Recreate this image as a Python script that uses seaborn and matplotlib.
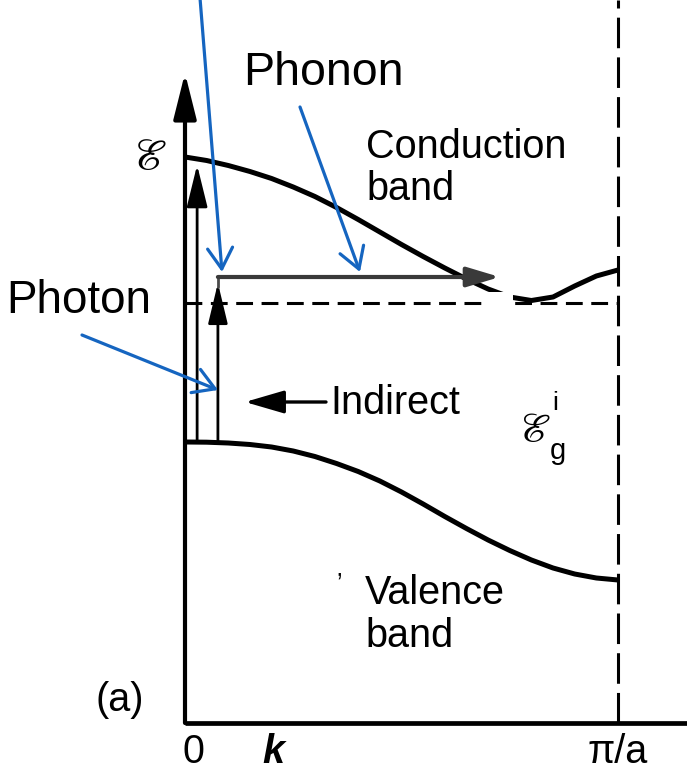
import matplotlib
matplotlib.use("Agg")
import matplotlib.pyplot as plt
from matplotlib.patches import Rectangle
import pandas as pd
import seaborn as sns

# Wavevector grid (units of pi/a) and band energies (arbitrary units)
k_grid = [0.0, 0.05, 0.1, 0.15, 0.2, 0.25, 0.3, 0.35, 0.4, 0.45, 0.5,
          0.55, 0.6, 0.65, 0.7, 0.75, 0.8, 0.85, 0.9, 0.95, 1.0]
conduction_E = [5.66, 5.625, 5.575, 5.515, 5.445, 5.36, 5.265, 5.155, 5.035, 4.91, 4.785,
                4.665, 4.55, 4.44, 4.34, 4.26, 4.225, 4.26, 4.37, 4.47, 4.53]
valence_E = [2.81, 2.808, 2.80, 2.785, 2.76, 2.72, 2.665, 2.595, 2.515, 2.42, 2.31,
             2.19, 2.065, 1.945, 1.83, 1.725, 1.63, 1.55, 1.49, 1.45, 1.43]

# Transition levels
gap_E = 4.20          # indirect gap (conduction-band minimum)
phonon_E = 4.46       # level reached by the photon in the indirect process
direct_top_E = 5.58   # direct transition end point
axis_top_E = 6.50
k_direct = 0.028
k_indirect = 0.076
k_phonon_end = 0.727

tick_pos = [0.0, 0.203, 1.0]
tick_labels = ["0", "k", "π/a"]

bands = pd.concat([
    pd.DataFrame({"k": k_grid, "E": conduction_E, "band": "conduction"}),
    pd.DataFrame({"k": k_grid, "E": valence_E, "band": "valence"}),
])

sns.set_theme(style="white")
plt.rcParams["font.family"] = ["Liberation Sans", "DejaVu Sans"]
plt.rcParams["text.color"] = "black"

fig = plt.figure(figsize=(6.87, 7.70), dpi=100)
ax = fig.add_axes([0, 0, 1, 1])
X0, SX, Y0, SY = 185.0, 433.0, 723.0, 100.0
ax.set_xlim(-X0 / SX, (687 - X0) / SX)
ax.set_ylim((Y0 - 770) / SY, Y0 / SY)
ax.set_axis_off()


def at(x, y):
    """Figure pixel position -> (k, E) data position."""
    return ((x - X0) / SX, (Y0 - y) / SY)


sns.lineplot(data=bands, x="k", y="E", units="band", estimator=None,
             color="black", lw=3.6, ax=ax, legend=False, zorder=3)
for ln in ax.lines:
    ln.set_solid_joinstyle("round")
    ln.set_solid_capstyle("butt")

# k axis and zone boundary
ax.plot([0, ax.get_xlim()[1]], [0, 0], color="black", lw=3.4, solid_capstyle="butt", zorder=2)
ax.plot([1, 1], [0, ax.get_ylim()[1]], color="black", lw=2.2,
        linestyle=(0, (10, 3)), zorder=2)
ax.plot([0, 1], [gap_E, gap_E], color="black", lw=2.2,
        linestyle=(0, (5.5, 2.8)), zorder=2)


def up_arrow(k, e0, e1, lw, hl, hw, ms=20, color="black"):
    ax.annotate("", xy=(k, e1), xytext=(k, e0),
                arrowprops=dict(arrowstyle=f"-|>,head_length={hl},head_width={hw}",
                                color=color, lw=lw, shrinkA=0, shrinkB=0,
                                mutation_scale=ms), zorder=4)


# energy axis and vertical (photon) transitions
up_arrow(0.0, 0.0, axis_top_E, 3.0, 1.4, 0.35)
up_arrow(k_direct, valence_E[0], direct_top_E, 2.0, 1.3, 0.32)
up_arrow(k_indirect, valence_E[0], phonon_E - 0.06, 2.0, 1.25, 0.3)

# phonon step
ax.plot([k_indirect, k_indirect], [phonon_E - 0.1, phonon_E], color="#4a4a4a", lw=2.0, zorder=4)
ax.annotate("", xy=(k_phonon_end, phonon_E), xytext=(k_indirect, phonon_E),
            arrowprops=dict(arrowstyle="-|>,head_length=1.0,head_width=0.3",
                            color="#3a3a3a", lw=3.0, shrinkA=0, shrinkB=0,
                            mutation_scale=20), zorder=4)

# whited-out patch on the band minimum
x0, y0 = at(483, 308)
x1, y1 = at(513, 292)
ax.add_patch(Rectangle((x0, y0), x1 - x0, y1 - y0, facecolor="white",
                       edgecolor="none", zorder=6))

# "Indirect" pointer
ax.annotate("", xy=at(245, 402), xytext=at(326, 402),
            arrowprops=dict(arrowstyle="-|>,head_length=1.2,head_width=0.35",
                            color="black", lw=2.4, shrinkA=0, shrinkB=0,
                            mutation_scale=20), zorder=4)

fs = 28.5
ax.text(*at(366, 158), "Conduction", fontsize=fs, va="baseline", ha="left")
ax.text(*at(366, 200), "band", fontsize=fs, va="baseline", ha="left")
ax.text(*at(365, 604), "Valence", fontsize=fs, va="baseline", ha="left")
ax.text(*at(365, 647), "band", fontsize=fs, va="baseline", ha="left")
ax.text(*at(330, 414), "Indirect", fontsize=fs, va="baseline", ha="left")
ax.text(*at(120, 700), "(a)", fontsize=fs, va="center", ha="center")
ax.text(*at(339, 584), "\u2019", fontsize=18, va="center", ha="center")

for kp, lab in zip(tick_pos, tick_labels):
    style = dict(fontweight="bold", fontstyle="italic") if lab == "k" else {}
    ax.text(kp + (8 / SX if lab == "0" else 0), at(0, 752)[1], lab,
            fontsize=fs, va="center", ha="center", **style)

# energy symbols
ax.text(*at(150, 158), r"$\mathscr{E}$", fontsize=31, math_fontfamily="stix",
        va="center", ha="center")
ax.text(*at(535, 430), r"$\mathscr{E}$", fontsize=29, math_fontfamily="stix",
        va="center", ha="center")
ax.text(*at(558, 451), "g", fontsize=21, va="center", ha="center")
ax.text(*at(555, 403), "i", fontsize=19, va="center", ha="center")

# blue callouts
blue = "#1565C0"
ax.text(*at(243, 85), "Phonon", fontsize=33.5, va="baseline", ha="left")
ax.text(*at(6, 313), "Photon", fontsize=33, va="baseline", ha="left")


def callout(start, end):
    ax.annotate("", xy=at(*end), xytext=at(*start),
                arrowprops=dict(arrowstyle="->,head_length=0.75,head_width=0.45",
                                color=blue, lw=2.3, shrinkA=0, shrinkB=0,
                                mutation_scale=20), zorder=7)


callout((200, -2), (222, 272))
callout((300, 107), (360, 272))
callout((82, 335), (218, 390))

fig.savefig("out.png", dpi=100, facecolor="white")
